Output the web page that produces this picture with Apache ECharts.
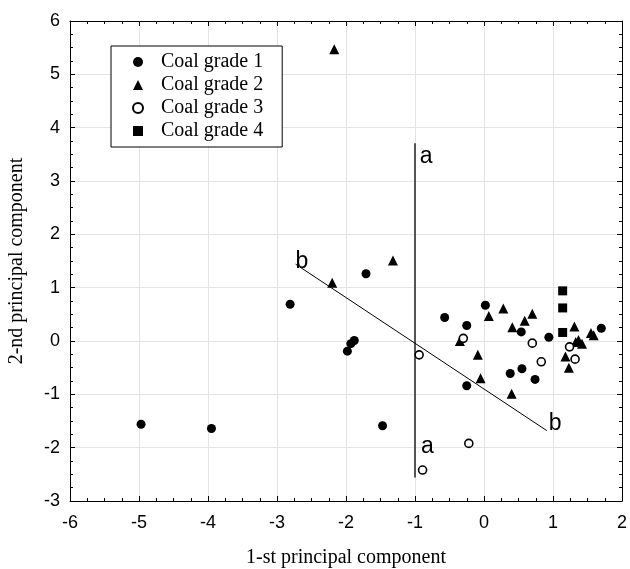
<!DOCTYPE html>
<html>
<head>
<meta charset="utf-8">
<script src="https://cdn.jsdelivr.net/npm/echarts@6/dist/echarts.min.js"></script>
<style>
html, body { margin: 0; padding: 0; background: #fff; }
#conMain { width: 630px; height: 569px; }
</style>
</head>
<body>
<div id="conMain"></div>
<script>
// scores: [pc1, pc2]
var grade1 = [[-4.97,-1.56],[-3.95,-1.64],[-1.47,-1.59],[-2.81,0.69],[-1.71,1.26],
    [-1.88,0.01],[-1.93,-0.05],[-1.98,-0.19],[-0.57,0.44],[-0.25,0.29],[0.02,0.67],
    [0.54,0.17],[0.94,0.07],[1.70,0.24],[-0.25,-0.84],[0.38,-0.61],[0.55,-0.52],[0.74,-0.72]];
var grade2 = [[-2.17,5.47],[-1.32,1.51],[-2.20,1.09],[0.07,0.47],[0.28,0.61],[0.70,0.51],
    [0.59,0.38],[0.41,0.26],[-0.35,0.00],[-0.09,-0.26],[-0.05,-0.70],[0.40,-0.99],
    [1.31,0.27],[1.59,0.11],[1.55,0.15],[1.18,-0.29],[1.23,-0.50],[1.33,-0.02],[1.42,-0.05],[1.37,0.02]];
var grade3 = [[-0.94,-0.26],[-0.89,-2.42],[-0.22,-1.92],[-0.30,0.05],[0.70,-0.04],
    [0.83,-0.39],[1.24,-0.11],[1.32,-0.34]];
var grade4 = [[1.14,0.94],[1.14,0.62],[1.14,0.16]];
var seriesNames = ['Coal grade 1','Coal grade 2','Coal grade 3','Coal grade 4'];

// direction lines a and b, with their letter labels
var lineA = [[-1.0,-2.56],[-1.0,3.71]];
var lineB = [[-2.73,1.44],[0.91,-1.68]];
var lineLabels = [[-0.84,3.45,'a'],[-0.82,-1.98,'a'],[-2.64,1.48,'b'],[1.03,-1.55,'b']];

var xRange = [-6, 2];
var yRange = [-3, 6];
var xTitle = '1-st principal component';
var yTitle = '2-nd principal component';

var tickFont = { color: '#000', fontFamily: 'Liberation Sans', fontSize: 18 };
var titleFont = { color: '#000', fontFamily: 'Liberation Serif', fontSize: 20 };

function boxAxis(pos, range, main, name) {
    return {
        type: 'value', position: pos, min: range[0], max: range[1], interval: 1,
        name: main ? name : '', nameLocation: 'middle',
        nameGap: (pos == 'bottom') ? 47 : 43,
        nameTextStyle: titleFont,
        axisLine: { show: true, onZero: false, lineStyle: { color: '#000', width: 1 } },
        axisTick: { show: true, inside: true, length: 5, lineStyle: { color: '#000' } },
        minorTick: { show: true, splitNumber: 4, length: 3, lineStyle: { color: '#000' } },
        axisLabel: main ? Object.assign({ margin: (pos == 'bottom') ? 13 : 10 }, tickFont) : { show: false },
        splitLine: { show: main, lineStyle: { color: '#e4e4e4', width: 1 } }
    };
}

var symStyle = { color: '#000', opacity: 1 };
var option = {
    animation: false,
    grid: { left: 70, right: 8, top: 21, bottom: 68, outerBoundsMode: 'none', containLabel: false },
    xAxis: [boxAxis('bottom', xRange, true, xTitle), boxAxis('top', xRange, false)],
    yAxis: [boxAxis('left', yRange, true, yTitle), boxAxis('right', yRange, false)],
    legend: {
        orient: 'vertical', left: 111, top: 46,
        data: seriesNames,
        backgroundColor: '#fff', borderColor: '#000', borderWidth: 1, borderRadius: 0,
        padding: [6, 19, 6, 21], itemGap: 3,
        itemWidth: 10, itemHeight: 10,
        textStyle: { color: '#000', fontFamily: 'Liberation Serif', fontSize: 20, lineHeight: 20, padding: [0, 0, 0, 13] }
    },
    series: [
        { name: 'lineA', type: 'line', data: lineA, symbol: 'none', silent: true, z: 1,
          lineStyle: { color: '#555', width: 2 } },
        { name: 'lineB', type: 'line', data: lineB, symbol: 'none', silent: true, z: 1,
          lineStyle: { color: '#000', width: 1 } },
        { name: 'labels', type: 'scatter', symbolSize: 0, silent: true, z: 1,
          itemStyle: { opacity: 1 },
          data: lineLabels.map(function (d) { return { value: [d[0], d[1]], name: d[2] }; }),
          label: { show: true, position: 'inside', formatter: '{b}', color: '#000', opacity: 1,
                   fontFamily: 'Liberation Sans', fontSize: 23 } },
        { name: seriesNames[0], type: 'scatter', data: grade1, symbol: 'circle', symbolSize: 9,
          itemStyle: symStyle, z: 3 },
        { name: seriesNames[1], type: 'scatter', data: grade2, symbol: 'triangle', symbolSize: 10,
          itemStyle: symStyle, z: 3 },
        { name: seriesNames[2], type: 'scatter', data: grade3, symbol: 'circle', symbolSize: 8,
          itemStyle: { color: '#fff', borderColor: '#000', borderWidth: 1.6, opacity: 1 }, z: 4 },
        { name: seriesNames[3], type: 'scatter', data: grade4, symbol: 'rect', symbolSize: 9,
          itemStyle: symStyle, z: 3 }
    ]
};

var myChart = echarts.init(document.getElementById('conMain'));
myChart.setOption(option);
</script>
</body>
</html>
